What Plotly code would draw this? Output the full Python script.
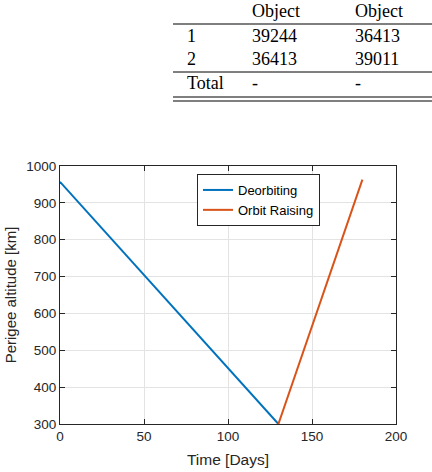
import plotly.graph_objects as go

# Data
deorbit_days = [0, 130]
deorbit_alt = [957, 300]
raise_days = [130, 180]
raise_alt = [300, 963]

table_header = ["", "Object", "Object"]
table_rows = [["1", "39244", "36413"],
              ["2", "36413", "39011"],
              ["Total", "-", "-"]]

W, H = 432, 472
L, R, T, B = 60, 36, 166, 48
pw, ph = W - L - R, H - T - B

def px(x):
    return (x - L) / pw

def py(y):
    return (H - B - y) / ph

fig = go.Figure()
fig.add_trace(go.Scatter(x=deorbit_days, y=deorbit_alt, mode="lines", name="Deorbiting",
                         line=dict(color="#0072BD", width=2)))
fig.add_trace(go.Scatter(x=raise_days, y=raise_alt, mode="lines", name="Orbit Raising",
                         line=dict(color="#D95319", width=2)))

axis_common = dict(showline=True, linecolor="#262626", linewidth=1, mirror="ticks",
                   ticks="inside", ticklen=5, tickcolor="#262626", automargin=False,
                   showgrid=True, gridcolor="#e3e3e3", gridwidth=1, zeroline=False,
                   tickfont=dict(family="Liberation Sans", size=13.5, color="#262626"))

fig.update_layout(
    width=W, height=H, margin=dict(l=L, r=R, t=T, b=B),
    paper_bgcolor="white", plot_bgcolor="white",
    xaxis=dict(range=[0, 200], dtick=50,
               title=dict(text="Time [Days]", font=dict(family="Liberation Sans", size=15.5, color="#262626"), standoff=10),
               **axis_common),
    yaxis=dict(range=[300, 1000], dtick=100,
               title=dict(text="Perigee altitude [km]", font=dict(family="Liberation Sans", size=15, color="#262626"), standoff=6),
               **axis_common),
    legend=dict(x=px(197), y=py(174), xanchor="left", yanchor="top",
                bordercolor="#262626", borderwidth=1, bgcolor="white",
                font=dict(family="Liberation Sans", size=13, color="#000"),
                itemwidth=30, tracegroupgap=0),
    showlegend=True,
)

# Table
col_x = [185, 250, 353]
row_y = [11, 36, 59, 83]
serif = dict(family="Liberation Serif", size=18, color="black")
all_rows = [table_header] + table_rows
for ri, row in enumerate(all_rows):
    for ci, cell in enumerate(row):
        if cell == "":
            continue
        fig.add_annotation(x=px(col_x[ci]), y=py(row_y[ri]), xref="paper", yref="paper",
                           text=cell, showarrow=False, xanchor="left", yanchor="middle",
                           font=serif)

for yy, wd in [(24, 1.2), (72, 1), (97, 1.2), (101, 1.2)]:
    fig.add_shape(type="line", xref="paper", yref="paper",
                  x0=px(173), x1=px(432), y0=py(yy), y1=py(yy),
                  line=dict(color="black", width=wd))

fig.write_html("out.html")
